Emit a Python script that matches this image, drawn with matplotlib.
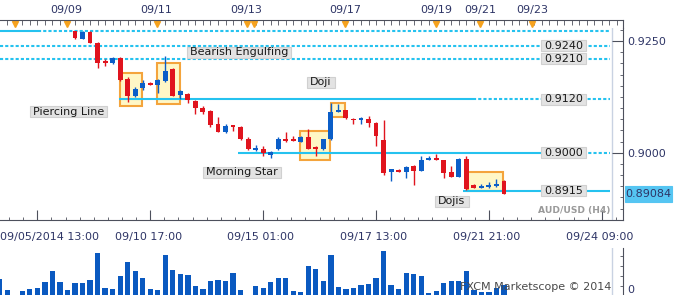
import numpy as np
import matplotlib.pyplot as plt
from matplotlib.patches import Rectangle
from matplotlib.ticker import MultipleLocator, FormatStrFormatter
from matplotlib.transforms import IdentityTransform

plt.rc("font", family="DejaVu Sans", size=8)

# AUD/USD H4 candles, index 0 = first candle visible in the price panel
opens = [0.92724, 0.92557, 0.92708, 0.92456, 0.92037, 0.92008, 0.92122, 0.91655, 0.91282, 0.91442,
         0.91563, 0.91511, 0.91602, 0.91870, 0.91298, 0.91312, 0.91160, 0.91007, 0.90931, 0.90647,
         0.90457, 0.90611, 0.90572, 0.90320, 0.90057, 0.90079, 0.89960, 0.90075, 0.90297, 0.90297,
         0.90251, 0.90359, 0.90125, 0.90075, 0.90304, 0.90915, 0.90954, 0.90762, 0.90744, 0.90762,
         0.90670, 0.90290, 0.89580, 0.89617, 0.89580, 0.89695, 0.89603, 0.89846, 0.89885, 0.89832,
         0.89580, 0.89466, 0.89862, 0.89273, 0.89221, 0.89232, 0.89255, 0.89374]
highs = [0.92736, 0.92715, 0.92720, 0.92470, 0.92099, 0.92152, 0.92140, 0.91694, 0.91465, 0.91625,
         0.91591, 0.91648, 0.92175, 0.91900, 0.91396, 0.91339, 0.91190, 0.91041, 0.90961, 0.90801,
         0.90641, 0.90618, 0.90595, 0.90343, 0.90176, 0.90153, 0.90045, 0.90343, 0.90457, 0.90382,
         0.90366, 0.90533, 0.90148, 0.90320, 0.91105, 0.91083, 0.90961, 0.90778, 0.90801, 0.90824,
         0.90686, 0.90725, 0.89644, 0.89644, 0.89702, 0.89725, 0.89938, 0.89938, 0.89976, 0.89850,
         0.89709, 0.89885, 0.89924, 0.89312, 0.89312, 0.89351, 0.89404, 0.89392]
lows = [0.92541, 0.92550, 0.92450, 0.91907, 0.91946, 0.91992, 0.91602, 0.91144, 0.91259, 0.91412,
        0.91511, 0.91328, 0.91579, 0.91270, 0.91213, 0.91110, 0.90876, 0.90863, 0.90572, 0.90457,
        0.90434, 0.90480, 0.90286, 0.90057, 0.90034, 0.89931, 0.89885, 0.90057, 0.90251, 0.90263,
        0.90240, 0.90079, 0.89924, 0.90068, 0.90297, 0.90904, 0.90766, 0.90634, 0.90634, 0.90572,
        0.90153, 0.89502, 0.89374, 0.89564, 0.89427, 0.89273, 0.89587, 0.89832, 0.89832, 0.89427,
        0.89450, 0.89450, 0.89175, 0.89209, 0.89209, 0.89221, 0.89244, 0.89072]
closes = [0.92564, 0.92708, 0.92456, 0.92021, 0.92008, 0.92122, 0.91625, 0.91275, 0.91435, 0.91563,
          0.91527, 0.91625, 0.91831, 0.91282, 0.91373, 0.91190, 0.91007, 0.90915, 0.90624, 0.90473,
          0.90611, 0.90572, 0.90304, 0.90075, 0.90091, 0.89999, 0.90022, 0.90320, 0.90263, 0.90267,
          0.90343, 0.90091, 0.90091, 0.90304, 0.90915, 0.90954, 0.90778, 0.90725, 0.90767, 0.90670,
          0.90382, 0.89541, 0.89633, 0.89580, 0.89679, 0.89603, 0.89832, 0.89885, 0.89846, 0.89557,
          0.89466, 0.89862, 0.89198, 0.89221, 0.89244, 0.89267, 0.89290, 0.89084]

# volume starts 10 candles earlier (those candles are above the price panel)
vol_start = -10
volumes = [17, 5.5, 0, 5, 7, 8, 14, 25, 14, 5.5,
           13, 13, 16, 42.5, 8, 7, 20, 34, 25, 18,
           7, 5.5, 40.5, 26, 22, 20.5, 9.5, 7, 14.5, 16,
           15, 22.5, 5.5, 1, 9.5, 8, 13.5, 18, 18, 5,
           3.5, 29.5, 27, 15, 40.5, 8.5, 6.5, 8, 10.5, 11.5,
           18, 44.5, 10.5, 7, 22.5, 21.5, 19.5, 3, 5, 12.5,
           14.5, 14.5, 24.5, 6, 3.5, 4, 8, 10.5]

top_level = 0.9273
levels = [0.9240, 0.9210, 0.9120, 0.9000, 0.8915]
level_labels = ["0.9240", "0.9210", "0.9120", "0.9000", "0.8915"]
level_solid = [None, None, (5.89, 52.92), (21.7, 64.0), (51.6, 71.09)]
last_price = 0.89084

patterns = ["Piercing Line", "Bearish Engulfing", "Morning Star", "Doji", "Dojis"]
pattern_x = [-0.86, 21.79, 22.19, 32.69, 50.09]
pattern_y = [0.90915, 0.92255, 0.89564, 0.91579, 0.88912]
# highlight boxes: candle index range, price range
pattern_boxes = [(5.98, 8.94, 0.91053, 0.91779),
                 (10.94, 13.95, 0.91082, 0.92021),
                 (29.9, 33.9, 0.89846, 0.90496),
                 (34.0, 35.9, 0.90801, 0.91105),
                 (52.2, 56.9, 0.89141, 0.89580)]

top_dates = ["09/09", "09/11", "09/13", "09/17", "09/19", "09/21", "09/23"]
top_pos = [-1.1, 10.85, 22.8, 35.9, 47.95, 53.8, 60.75]
events = [-7.97, -1.1, 10.85, 22.8, 23.78, 35.9, 47.95, 53.8, 60.75]

bottom_dates = ["09/05/2014 13:00", "09/10 17:00", "09/15 01:00", "09/17 13:00", "09/21 21:00", "09/24 09:00"]
bottom_pos = [-9.95, 5.31, 20.2, 35.2, 50.2, 65.2]

red = "#E0141E"
blue = "#0B5EC8"
cyan = "#25C2EF"
axc = "#4D505C"
navy = "#2E3566"
edge_x = 71.35
line_end = 71.09

W, H = 680, 295
X0, X1 = -9.9655, 72.814


def frac(x0, y0, x1, y1):
    return [x0 / W, 1 - y1 / H, (x1 - x0) / W, (y1 - y0) / H]


fig = plt.figure(figsize=(6.8, 2.95), dpi=100)
ax = fig.add_axes(frac(0, 28, 623, 220))
ax_top = fig.add_axes(frac(0, 20, 623, 28))
ax_vol = fig.add_axes(frac(0, 247.5, 623, 295.5))

# ---- price panel
ax.set_xlim(X0, X1)
ax.set_ylim(0.884963, 0.927931)
ax.spines["top"].set_visible(False)
ax.spines["left"].set_visible(False)
ax.spines["right"].set_color(axc)
ax.spines["bottom"].set_color(axc)
ax.yaxis.tick_right()
ax.yaxis.set_major_locator(MultipleLocator(0.025))
ax.yaxis.set_minor_locator(MultipleLocator(0.0025))
ax.yaxis.set_major_formatter(FormatStrFormatter("%.4f"))
ax.tick_params(axis="y", which="both", direction="in", colors=axc, labelcolor=navy, labelsize=8, pad=3)
ax.tick_params(axis="y", which="major", length=8)
ax.tick_params(axis="y", which="minor", length=2.5)
ax.xaxis.set_major_locator(MultipleLocator(15, offset=-5))
ax.xaxis.set_minor_locator(MultipleLocator(1.875, offset=-5))
ax.tick_params(axis="x", which="both", direction="in", labelbottom=False, colors=axc)
ax.tick_params(axis="x", which="major", length=7)
ax.tick_params(axis="x", which="minor", length=2.5)

ax.axvline(edge_x, color="#C9D2E2", lw=1, zorder=1)

idx = np.arange(len(opens))
o = np.array(opens)
c = np.array(closes)
cols = [red if cc < oo else blue for oo, cc in zip(o, c)]
ax.vlines(idx, lows, highs, colors=cols, lw=1, zorder=3)
ax.bar(idx, np.maximum(np.abs(c - o), 0.0004), bottom=np.minimum(o, c), width=0.65, color=cols, zorder=3)

for x0, x1, y0, y1 in pattern_boxes:
    ax.add_patch(Rectangle((x0, y0), x1 - x0, y1 - y0, fc="#FFF7C6", ec="#F4A43C", lw=1.5, zorder=1.5))

dotted = (0, (1.5, 1.0))
ax.hlines(top_level, X0, -4.92, color=cyan, lw=1.5, zorder=2)
ax.hlines(top_level, -4.92, line_end, color=cyan, lw=1.5, ls=dotted, zorder=2)
for lv, sol in zip(levels, level_solid):
    if sol is None:
        ax.hlines(lv, X0, line_end, color=cyan, lw=1.5, ls=dotted, zorder=2)
    else:
        ax.hlines(lv, sol[0], sol[1], color=cyan, lw=1.5, zorder=2)
        if sol[1] < line_end:
            ax.hlines(lv, sol[1], line_end, color=cyan, lw=1.5, ls=dotted, zorder=2)

boxes = []


def boxed(a, x, y, s, fc="#E3E3E3", ec="#D0D0D0", tc="#1A1A1A", ha="center", hpad=3.2, hgt=11, **kw):
    t = a.text(x, y, s, ha=ha, va="center", color=tc, zorder=6, **kw)
    boxes.append((a, t, fc, ec, hpad, hgt))
    return t


for lv, lab in zip(levels, level_labels):
    boxed(ax, 64.91, lv, lab)
for name, px, py in zip(patterns, pattern_x, pattern_y):
    boxed(ax, px, py, name)
boxed(ax, 1.0035, last_price, "%.5f" % last_price, fc="#55C5F2", ec="#55C5F2", tc=navy,
      ha="left", hpad=0.5, hgt=16, transform=ax.get_yaxis_transform())

ax.text(line_end, 0.887009, "AUD/USD (H4)", ha="right", va="center", color="#9A9A9A",
        fontsize=6.6, fontweight="bold", zorder=6)

for lab, px in zip(bottom_dates, bottom_pos):
    ax.text(px, -0.0885, lab, ha="left", va="center", color=navy, fontsize=8,
            transform=ax.get_xaxis_transform())

# ---- top date strip
ax_top.set_xlim(X0, X1)
ax_top.set_ylim(0, 1)
ax_top.patch.set_alpha(0)
ax_top.spines["bottom"].set_visible(False)
ax_top.spines["left"].set_visible(False)
ax_top.spines["top"].set_color(axc)
ax_top.spines["right"].set_color(axc)
ax_top.set_yticks([])
ax_top.xaxis.tick_top()
ax_top.set_xticks(top_pos, top_dates)
ax_top.xaxis.set_minor_locator(MultipleLocator(1))
ax_top.tick_params(axis="x", which="both", direction="in", length=3.5, colors=axc,
                   labelcolor=navy, labelsize=8, pad=3.5)
ax_top.plot(events, [0.55] * len(events), "v", color="#F6A21E", ms=5, clip_on=False)

# ---- volume panel
ax_vol.set_xlim(X0, X1)
ax_vol.set_ylim(0, 48)
ax_vol.patch.set_alpha(0)
vol_idx = np.arange(vol_start, vol_start + len(volumes))
ax_vol.bar(vol_idx, volumes, width=0.7, color="#0A59C0", zorder=2)
ax_vol.spines["top"].set_visible(False)
ax_vol.spines["left"].set_visible(False)
ax_vol.spines["right"].set_color(axc)
ax_vol.spines["bottom"].set_color("#C5CDE0")
ax_vol.set_xticks([])
ax_vol.yaxis.tick_right()
ax_vol.set_yticks([0], [""])
ax_vol.yaxis.set_minor_locator(MultipleLocator(10))
ax_vol.tick_params(axis="y", which="both", direction="in", colors=axc)
ax_vol.tick_params(axis="y", which="major", length=8)
ax_vol.tick_params(axis="y", which="minor", length=2.5)
# zero label lifted a little so it stays inside the picture
ax_vol.text(1.0065, 0.4, "0", ha="left", va="bottom", color=navy, fontsize=8,
            transform=ax_vol.get_yaxis_transform())
ax_vol.axvline(edge_x, color="#C9D2E2", lw=1, zorder=1)
ax_vol.text(edge_x - 0.1, 8.2, "FXCM Marketscope \u00a9 2014", ha="right", va="center",
            color="#4A4A4A", fontsize=8, zorder=5)

# grey label boxes sized from the rendered text
fig.canvas.draw()
r = fig.canvas.get_renderer()
for a, t, fc, ec, hpad, hgt in boxes:
    bb = t.get_window_extent(r)
    cy = (bb.y0 + bb.y1) / 2
    a.add_artist(Rectangle((bb.x0 - hpad, cy - hgt / 2), bb.width + 2 * hpad, hgt,
                           transform=IdentityTransform(), fc=fc, ec=ec, lw=0.8,
                           zorder=5, clip_on=False))

fig.savefig("out.png", dpi=100)
